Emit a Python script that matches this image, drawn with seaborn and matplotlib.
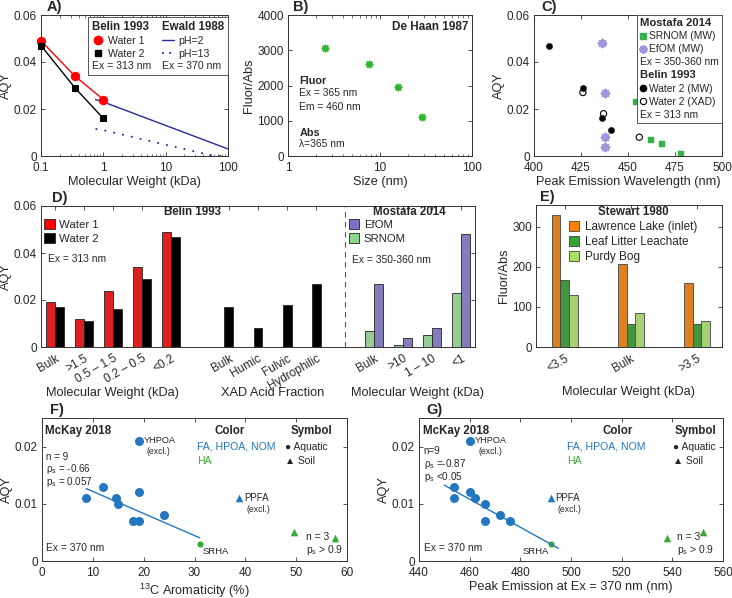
import numpy as np
import pandas as pd
import matplotlib
matplotlib.use("Agg")
import matplotlib.pyplot as plt
import seaborn as sns
from matplotlib.lines import Line2D
from matplotlib.patches import Patch
from matplotlib.ticker import FuncFormatter, NullFormatter

# ---------------- data ----------------
# A) Belin 1993 / Ewald 1988
A_mw_belin = [0.1, 0.35, 1.0]
A_water1 = [0.049, 0.034, 0.024]
A_water2 = [0.047, 0.029, 0.016]
A_mw_ph2 = [0.75, 1.0, 100.0]
A_ph2 = [0.024, 0.023, 0.003]
A_mw_ph13 = [0.75, 1.0, 60.0, 100.0]
A_ph13 = [0.0115, 0.011, 0.0, 0.0]

# B) De Haan 1987
B_size = [2.5, 7.6, 15.5, 28.5]
B_fluor_abs = [3070, 2600, 1970, 1110]

# C) AQY vs peak emission
C_srnom_em = [454, 462, 468, 478]
C_srnom_aqy = [0.023, 0.007, 0.005, 0.001]
C_efom_em = [436, 438, 438, 438]
C_efom_aqy = [0.048, 0.027, 0.008, 0.004]
C_w2mw_em = [408, 426, 436, 441]
C_w2mw_aqy = [0.047, 0.029, 0.016, 0.011]
C_w2xad_em = [426, 437, 456]
C_w2xad_aqy = [0.027, 0.018, 0.008]

# D) bar chart
D_mw_labels = ['Bulk', '>1.5', '0.5 – 1.5', '0.2 – 0.5', '<0.2']
D_water1 = [0.019, 0.012, 0.024, 0.034, 0.049]
D_water2 = [0.017, 0.011, 0.016, 0.029, 0.047]
D_xad_labels = ['Bulk', 'Humic', 'Fulvic', 'Hydrophilic']
D_xad_water2 = [0.017, 0.008, 0.018, 0.027]
D_mo_labels = ['Bulk', '>10', '1 – 10', '<1']
D_srnom = [0.007, 0.001, 0.005, 0.023]
D_efom = [0.027, 0.004, 0.008, 0.048]

# E) Stewart 1980
E_labels = ['<3.5', 'Bulk', '>3.5']
E_series = ['Lawrence Lake (inlet)', 'Leaf Litter Leachate', 'Purdy Bog']
E_lawrence = [330, 207, 159]
E_leaf = [166, 58, 57]
E_purdy = [130, 84, 65]

# F/G) McKay 2018
FG_aqy = [0.013, 0.012, 0.011, 0.011, 0.010, 0.008, 0.007, 0.007]
F_arom = [12.0, 19.0, 8.7, 14.6, 14.9, 24.0, 17.9, 19.0]
G_peak = [454, 460, 454, 462, 466, 472, 466, 476]
YHPOA = dict(aqy=0.021, arom=19.0, peak=460)
SRHA = dict(aqy=0.003, arom=31.0, peak=492)
PPFA = dict(aqy=0.011, arom=38.8, peak=492)
SOIL_HA_aqy = [0.005, 0.004]
SOIL_HA_arom = [49.6, 57.7]
SOIL_HA_peak = [552, 538]
G_LINE_RANGE = (450, 495)

# ---------------- style ----------------
sns.set_theme(style='ticks')
plt.rcParams['font.family'] = ['Liberation Sans', 'DejaVu Sans']
plt.rcParams['mathtext.fontset'] = 'custom'
plt.rcParams['mathtext.rm'] = 'Liberation Sans'
plt.rcParams['mathtext.it'] = 'Liberation Sans:italic'
plt.rcParams['mathtext.bf'] = 'Liberation Sans:bold'
plt.rcParams['axes.labelsize'] = 9.2
plt.rcParams['xtick.labelsize'] = 8.5
plt.rcParams['ytick.labelsize'] = 8.5
plt.rcParams['axes.labelpad'] = 1.5

RED = '#ff0000'
NAVY = '#2a2a9a'
GREEN_B = '#2fb52f'
GREEN_C = '#35b04a'
LAV = '#9d97dc'
PURPLE = '#7b72c8'
LGREEN = '#8cd68c'
ORANGE = '#ff8000'
DGREEN = '#34a333'
YGREEN = '#a8e063'
BLUE = '#2277c0'
GREEN_F = '#3aaa35'

fmt = FuncFormatter(lambda v, p: f'{v:g}')

fig = plt.figure(figsize=(7.32, 5.98), dpi=100)
W, H = 732, 598


def add_ax(l, t, r, b):
    return fig.add_axes([l / W, 1 - b / H, (r - l) / W, (b - t) / H])


def style(ax):
    for s in ax.spines.values():
        s.set_visible(True)
        s.set_color('#333333')
        s.set_linewidth(0.7)
    ax.tick_params(which='major', direction='in', top=True, right=True, length=3,
                   width=0.6, color='#333333', pad=3)
    ax.tick_params(axis='x', which='major', pad=4.5)
    ax.tick_params(which='minor', direction='in', top=True, right=True, length=1.8,
                   width=0.5, color='#333333')


def letter(ax, s, dx):
    ax.text(dx, 1.004, s, transform=ax.transAxes, fontsize=10.5, fontweight='bold',
            ha='left', va='bottom')


def strip_handles(leg, names, bold_names, bold_size):
    for col in leg._legend_handle_box.get_children():
        for row in col.get_children():
            kids = row.get_children()
            if len(kids) == 2 and kids[1].get_text() in names:
                row._children = [kids[1]]
    for t in leg.get_texts():
        if t.get_text() in bold_names:
            t.set_fontweight('bold')
            t.set_fontsize(bold_size)


axA = add_ax(41, 15, 228, 156)
axB = add_ax(288, 15, 472, 156)
axC = add_ax(534, 15, 722, 156)
axD = add_ax(41, 206, 475, 347)
axE = add_ax(536, 205, 722, 347)
axF = add_ax(42, 418, 347, 561)
axG = add_ax(419, 418, 723, 561)

# ---------------- A ----------------
ax = axA
sns.lineplot(x=A_mw_ph2, y=A_ph2, color=NAVY, lw=1.0, ax=ax)
sns.lineplot(x=A_mw_ph13, y=A_ph13, color=NAVY, lw=1.3, ls=(0, (1, 4)), ax=ax)
sns.lineplot(x=A_mw_belin, y=A_water2, color='black', lw=1.0, marker='s', markersize=4.5,
             markeredgecolor='black', clip_on=False, zorder=5, ax=ax)
sns.lineplot(x=A_mw_belin, y=A_water1, color=RED, lw=1.0, marker='o', markersize=6,
             markeredgecolor=RED, clip_on=False, zorder=4, ax=ax)
ax.set_xscale('log')
ax.set_xlim(0.1, 100)
ax.set_ylim(0, 0.06)
ax.set_xticks([0.1, 1, 10, 100])
ax.set_yticks([0, 0.02, 0.04, 0.06])
ax.xaxis.set_major_formatter(fmt)
ax.xaxis.set_minor_formatter(NullFormatter())
ax.yaxis.set_major_formatter(fmt)
ax.set_xlabel('Molecular Weight (kDa)')
ax.set_ylabel('AQY')
style(ax)
blank = Line2D([], [], ls='none')
hA = [blank, Line2D([], [], color=RED, marker='o', ls='none', ms=6),
      Line2D([], [], color='black', marker='s', ls='none', ms=4.5), blank,
      blank, Line2D([], [], color=NAVY, lw=1.0),
      Line2D([], [], color=NAVY, lw=1.3, ls=(0, (1, 3))), blank]
lA = ['Belin 1993', 'Water 1', 'Water 2', 'Ex = 313 nm',
      'Ewald 1988', 'pH=2', 'pH=13', 'Ex = 370 nm']
leg = ax.legend(hA, lA, ncol=2, loc='upper right', bbox_to_anchor=(1.0, 0.985),
                borderaxespad=0, fontsize=7.6, handlelength=1.2, handletextpad=0.35,
                labelspacing=0.25, columnspacing=1.0, borderpad=0.4, fancybox=False,
                framealpha=1, edgecolor='#555555')
leg.get_frame().set_linewidth(0.7)
leg.set_zorder(10)
strip_handles(leg, ['Belin 1993', 'Ewald 1988', 'Ex = 313 nm', 'Ex = 370 nm'],
              ['Belin 1993', 'Ewald 1988'], 8.3)
letter(ax, 'A)', 0.03)

# ---------------- B ----------------
ax = axB
sns.scatterplot(x=B_size, y=B_fluor_abs, marker=(8, 2, 0), s=20, color=GREEN_B,
                edgecolor=GREEN_B, linewidth=1.2, ax=ax)
ax.set_xscale('log')
ax.set_xlim(1, 100)
ax.set_ylim(0, 4000)
ax.set_xticks([1, 10, 100])
ax.set_yticks([0, 1000, 2000, 3000, 4000])
ax.xaxis.set_major_formatter(fmt)
ax.xaxis.set_minor_formatter(NullFormatter())
ax.set_xlabel('Size (nm)')
ax.set_ylabel('Fluor/Abs')
style(ax)
ax.text(0.98, 0.917, 'De Haan 1987', transform=ax.transAxes, ha='right', va='center',
        fontsize=8.5, fontweight='bold')
ax.text(0.062, 0.532, 'Fluor', transform=ax.transAxes, va='center', fontsize=7.8,
        fontweight='bold')
ax.text(0.062, 0.445, 'Ex = 365 nm', transform=ax.transAxes, va='center', fontsize=7.4)
ax.text(0.062, 0.35, 'Em = 460 nm', transform=ax.transAxes, va='center', fontsize=7.4)
ax.text(0.062, 0.165, 'Abs', transform=ax.transAxes, va='center', fontsize=7.8,
        fontweight='bold')
ax.text(0.062, 0.085, 'λ=365 nm', transform=ax.transAxes, va='center', fontsize=7.4)
letter(ax, 'B)', 0.027)

# ---------------- C ----------------
ax = axC
sns.scatterplot(x=C_srnom_em, y=C_srnom_aqy, marker='s', s=16, color=GREEN_C,
                edgecolor=GREEN_C, linewidth=0.3, ax=ax)
sns.scatterplot(x=C_efom_em, y=C_efom_aqy, marker=(8, 2, 0), s=30, color=LAV,
                edgecolor=LAV, linewidth=1.5, ax=ax)
sns.scatterplot(x=C_w2mw_em, y=C_w2mw_aqy, marker='o', s=20, color='black',
                edgecolor='black', linewidth=0.3, ax=ax)
sns.scatterplot(x=C_w2xad_em, y=C_w2xad_aqy, marker='o', s=20, color='black',
                facecolor='none', edgecolor='black', linewidth=0.8, ax=ax)
ax.set_xlim(400, 500)
ax.set_ylim(0, 0.06)
ax.set_xticks([400, 425, 450, 475, 500])
ax.set_yticks([0, 0.02, 0.04, 0.06])
ax.yaxis.set_major_formatter(fmt)
ax.set_xlabel('Peak Emission Wavelength (nm)')
ax.set_ylabel('AQY')
style(ax)
hC = [blank, Line2D([], [], color=GREEN_C, marker='s', ls='none', ms=4),
      Line2D([], [], color=LAV, marker=(8, 2, 0), ls='none', ms=6, mew=1.4), blank,
      blank, Line2D([], [], color='black', marker='o', ls='none', ms=4.5),
      Line2D([], [], color='black', marker='o', mfc='none', ls='none', ms=4.5, mew=0.8),
      blank]
lC = ['Mostafa 2014', 'SRNOM (MW)', 'EfOM (MW)', 'Ex = 350-360 nm',
      'Belin 1993', 'Water 2 (MW)', 'Water 2 (XAD)', 'Ex = 313 nm']
leg = ax.legend(hC, lC, loc='upper right', bbox_to_anchor=(1.0, 1.0), borderaxespad=0,
                fontsize=7.4, handlelength=0.6, handletextpad=0.3, labelspacing=0.3,
                borderpad=0.3, fancybox=False, framealpha=1, edgecolor='#555555')
leg.get_frame().set_linewidth(0.7)
strip_handles(leg, ['Mostafa 2014', 'Belin 1993', 'Ex = 350-360 nm', 'Ex = 313 nm'],
              ['Mostafa 2014', 'Belin 1993'], 8.1)
letter(ax, 'C)', 0.037)

# ---------------- D ----------------
ax = axD
n_mw, n_xad, n_mo = len(D_mw_labels), len(D_xad_labels), len(D_mo_labels)
pos_mw = np.arange(n_mw, dtype=float)
pos_xad = pos_mw[-1] + 2 + np.arange(n_xad)
pos_mo = pos_xad[-1] + 2 + np.arange(n_mo)

df_mw = pd.DataFrame({'pos': np.tile(pos_mw, 2), 'AQY': D_water1 + D_water2,
                      'series': ['Water 1'] * n_mw + ['Water 2'] * n_mw})
df_xad = pd.DataFrame({'pos': pos_xad, 'AQY': D_xad_water2})
df_mo = pd.DataFrame({'pos': np.tile(pos_mo, 2), 'AQY': D_srnom + D_efom,
                      'series': ['SRNOM'] * n_mo + ['EfOM'] * n_mo})
bar_kw = dict(errorbar=None, native_scale=True, edgecolor='#222222', linewidth=0.6, ax=ax)
sns.barplot(df_mw, x='pos', y='AQY', hue='series', hue_order=['Water 1', 'Water 2'],
            palette=[RED, 'black'], width=0.62, legend=False, **bar_kw)
sns.barplot(df_xad, x='pos', y='AQY', color='black', width=0.31, **bar_kw)
sns.barplot(df_mo, x='pos', y='AQY', hue='series', hue_order=['SRNOM', 'EfOM'],
            palette=[LGREEN, PURPLE], width=0.62, legend=False, **bar_kw)
ax.axvline((pos_xad[-1] + pos_mo[0]) / 2, ls=(0, (5, 4)), color='#555555', lw=0.8)
ax.set_xlim(pos_mw[0] - 0.48, pos_mo[-1] + 0.48)
ax.set_ylim(0, 0.06)
ax.set_yticks([0, 0.02, 0.04, 0.06])
ax.yaxis.set_major_formatter(fmt)
ax.set_xticks(np.concatenate([pos_mw, pos_xad, pos_mo]))
ax.set_xticklabels(D_mw_labels + D_xad_labels + D_mo_labels, rotation=30, ha='right',
                   rotation_mode='anchor')
ax.set_xlabel('')
ax.set_ylabel('AQY')
style(ax)
ax.tick_params(axis='x', pad=4)
trans = matplotlib.transforms.blended_transform_factory(ax.transData, ax.transAxes)
for grp, lab in [(pos_mw, 'Molecular Weight (kDa)'), (pos_xad, 'XAD Acid Fraction'),
                 (pos_mo, 'Molecular Weight (kDa)')]:
    ax.text(grp.mean(), -0.326, lab, transform=trans, ha='center', va='center',
            fontsize=9.2)
ax.text(0.348, 0.957, 'Belin 1993', transform=ax.transAxes, ha='center', va='center',
        fontsize=8.3, fontweight='bold')
ax.text(0.848, 0.957, 'Mostafa 2014', transform=ax.transAxes, ha='center', va='center',
        fontsize=8.3, fontweight='bold')
hD1 = [Patch(facecolor=RED, edgecolor='#222222', lw=0.6),
       Patch(facecolor='black', edgecolor='#222222', lw=0.6)]
leg1 = ax.legend(hD1, ['Water 1', 'Water 2'], loc='upper left', bbox_to_anchor=(0.005, 0.915),
                 borderaxespad=0, frameon=False, fontsize=8.2, handlelength=0.9,
                 handleheight=0.9, handletextpad=0.4, labelspacing=0.3, borderpad=0.1)
ax.add_artist(leg1)
hD2 = [Patch(facecolor=PURPLE, edgecolor='#222222', lw=0.6),
       Patch(facecolor=LGREEN, edgecolor='#222222', lw=0.6)]
ax.legend(hD2, ['EfOM', 'SRNOM'], loc='upper left', bbox_to_anchor=(0.707, 0.915),
          borderaxespad=0, frameon=False, fontsize=8.2, handlelength=0.9,
          handleheight=0.9, handletextpad=0.4, labelspacing=0.3, borderpad=0.1)
ax.text(0.016, 0.624, 'Ex = 313 nm', transform=ax.transAxes, va='center', fontsize=7.4)
ax.text(0.717, 0.617, 'Ex = 350-360 nm', transform=ax.transAxes, va='center', fontsize=7.4)
letter(ax, 'D)', 0.025)

# ---------------- E ----------------
ax = axE
df_e = pd.DataFrame({'cat': E_labels * 3, 'val': E_lawrence + E_leaf + E_purdy,
                     'series': [E_series[0]] * 3 + [E_series[1]] * 3 + [E_series[2]] * 3})
sns.barplot(df_e, x='cat', y='val', hue='series', order=E_labels, hue_order=E_series,
            palette=[ORANGE, DGREEN, YGREEN], width=0.39, edgecolor='#444444',
            linewidth=0.6, errorbar=None, legend=False, ax=ax)
ax.set_xlim(-0.435, 2.38)
ax.set_ylim(0, 354)
ax.set_yticks([0, 100, 200, 300])
ax.set_xticks(range(len(E_labels)))
ax.set_xticklabels(E_labels, rotation=30, ha='right', rotation_mode='anchor')
ax.set_xlabel('Molecular Weight (kDa)')
ax.xaxis.set_label_coords(0.5, -0.278)
ax.set_ylabel('Fluor/Abs')
style(ax)
ax.tick_params(axis='x', pad=4)
hE = [Patch(facecolor=c, edgecolor='#444444', lw=0.6) for c in [ORANGE, DGREEN, YGREEN]]
legE = ax.legend(hE, E_series, title='Stewart 1980', loc='upper left',
                 bbox_to_anchor=(0.17, 1.0), borderaxespad=0, frameon=False, fontsize=8.5,
                 handlelength=0.9, handleheight=0.9, handletextpad=0.45, labelspacing=0.25,
                 borderpad=0.1, title_fontproperties={'weight': 'bold', 'size': 8.3})
letter(ax, 'E)', 0.02)


# ---------------- F & G ----------------
def mckay(ax, xs, x_y, x_s, x_p, soil_x, line_range, xlim, xticks, xlabel):
    reg_x = np.array(xs + [x_s])
    reg_y = np.array(FG_aqy + [SRHA['aqy']])
    slope, icpt = np.polyfit(reg_x, reg_y, 1)
    lx = np.array(line_range if line_range is not None else (reg_x.min(), reg_x.max()))
    sns.lineplot(x=lx, y=slope * lx + icpt, color=BLUE, lw=1.0, ax=ax)
    sns.scatterplot(x=xs + [x_y], y=FG_aqy + [YHPOA['aqy']], marker='o', s=42,
                    color=BLUE, linewidth=0, ax=ax)
    sns.scatterplot(x=[x_s], y=[SRHA['aqy']], marker='o', s=20, color=GREEN_F,
                    linewidth=0, ax=ax)
    sns.scatterplot(x=[x_p], y=[PPFA['aqy']], marker='^', s=30, color=BLUE,
                    linewidth=0, ax=ax)
    sns.scatterplot(x=soil_x, y=SOIL_HA_aqy, marker='^', s=30, color=GREEN_F,
                    linewidth=0, ax=ax)
    ax.set_xlim(*xlim)
    ax.set_ylim(0, 0.025)
    ax.set_xticks(xticks)
    ax.set_yticks([0, 0.01, 0.02])
    ax.yaxis.set_major_formatter(fmt)
    ax.set_xlabel(xlabel)
    ax.set_ylabel('AQY')
    style(ax)
    ax.annotate('YHPOA', (x_y, YHPOA['aqy']), xytext=(4, 0), textcoords='offset points',
                ha='left', va='center', fontsize=6.6)
    ax.annotate('(excl.)', (x_y, YHPOA['aqy']), xytext=(6, -8), textcoords='offset points',
                ha='left', va='center', fontsize=6.2)
    ax.annotate('PPFA', (x_p, PPFA['aqy']), xytext=(3.5, 0), textcoords='offset points',
                ha='left', va='center', fontsize=7.0)
    ax.annotate('(excl.)', (x_p, PPFA['aqy']), xytext=(5, -8), textcoords='offset points',
                ha='left', va='center', fontsize=6.2)


mckay(axF, F_arom, YHPOA['arom'], SRHA['arom'], PPFA['arom'], SOIL_HA_arom, None,
      (0, 60), range(0, 61, 10), '$^{13}$C Aromaticity (%)')
mckay(axG, G_peak, YHPOA['peak'], SRHA['peak'], PPFA['peak'], SOIL_HA_peak,
      G_LINE_RANGE, (440, 560), range(440, 561, 20),
      'Peak Emission at Ex = 370 nm (nm)')

axF.annotate('SRHA', (SRHA['arom'], SRHA['aqy']), xytext=(2, -5.5),
             textcoords='offset points', ha='left', va='center', fontsize=6.8)
axG.annotate('SRHA', (SRHA['peak'], SRHA['aqy']), xytext=(-1, -5.5),
             textcoords='offset points', ha='right', va='center', fontsize=6.8)

for ax, x0, stat_lines, stat_y, col_x, color_x, sym_x, mark_x, n3_x in [
        (axF, 0.01, ['n = 9', 'ρ$_\\mathrm{s}$ = -0.66', 'p$_\\mathrm{s}$ = 0.057'],
         [0.728, 0.643, 0.553], 0.616, 0.508, 0.884, 0.798, 0.866),
        (axG, 0.012, ['n=9', 'ρ$_\\mathrm{s}$ =-0.87', 'p$_\\mathrm{s}$ <0.05'],
         [0.77, 0.681, 0.59], 0.655, 0.486, 0.909, 0.836, 0.848)]:
    tr = ax.transAxes
    ax.text(x0, 0.91, 'McKay 2018', transform=tr, va='center', fontsize=8.3,
            fontweight='bold')
    for s, yy in zip(stat_lines, stat_y):
        ax.text(x0 + 0.003, yy, s, transform=tr, va='center', fontsize=7.1)
    ax.text(col_x, 0.91, 'Color', transform=tr, ha='center', va='center', fontsize=8.3,
            fontweight='bold')
    ax.text(color_x, 0.80, 'FA, HPOA, NOM', transform=tr, va='center', fontsize=7.6,
            color=BLUE)
    ax.text(color_x, 0.70, 'HA', transform=tr, va='center', fontsize=7.6, color=GREEN_F)
    ax.text(sym_x, 0.91, 'Symbol', transform=tr, ha='center', va='center', fontsize=8.3,
            fontweight='bold')
    ax.text(mark_x, 0.80, '● Aquatic', transform=tr, va='center', fontsize=7.4)
    ax.text(mark_x, 0.70, '▲ Soil', transform=tr, va='center', fontsize=7.4)
    ax.text(n3_x, 0.17, 'n = 3', transform=tr, va='center', fontsize=7.4)
    ax.text(n3_x, 0.08, 'p$_\\mathrm{s}$ > 0.9', transform=tr, va='center', fontsize=7.4)
    ax.text(x0 + 0.003, 0.089, 'Ex = 370 nm', transform=tr, va='center', fontsize=7.4)

letter(axF, 'F)', 0.026)
letter(axG, 'G)', 0.025)

fig.savefig('out.png', dpi=100)
